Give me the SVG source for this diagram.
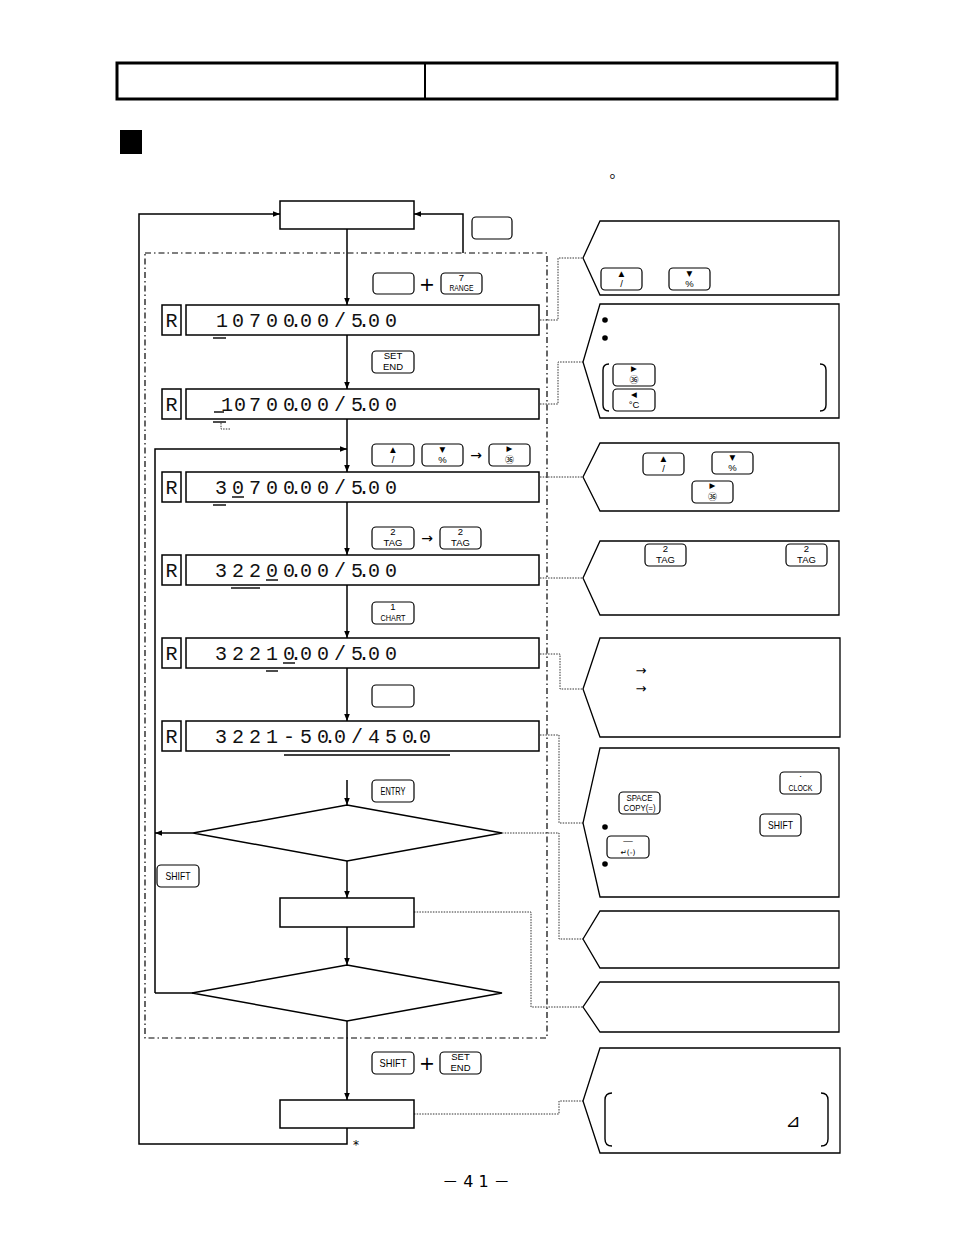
<svg xmlns="http://www.w3.org/2000/svg" width="954" height="1235" viewBox="0 0 954 1235">
<defs>
<marker id="ah" viewBox="0 0 8 8" refX="8" refY="4" markerWidth="7" markerHeight="7" markerUnits="userSpaceOnUse" orient="auto"><path d="M0,0.8 L8,4 L0,7.2 z" fill="#000"/></marker>
<style>
.bx{fill:#fff;stroke:#000;stroke-width:1.5}
.cl{fill:#fff;stroke:#000;stroke-width:1.3}
.k{fill:#fff;stroke:#000;stroke-width:1.2}
.kt{font-family:"Liberation Sans","Noto Sans CJK JP",sans-serif;font-size:9.5px;text-anchor:middle;fill:#000}
.k1{font-family:"Liberation Sans",sans-serif;font-size:11px;text-anchor:middle;fill:#000}
.ks{font-family:"DejaVu Sans","Noto Sans CJK JP",sans-serif;font-size:7.5px;text-anchor:middle;fill:#000}
.kc{font-family:"Noto Sans CJK JP",sans-serif;font-size:9px;text-anchor:middle;fill:#000}
.seg{font-family:"Liberation Mono","DejaVu Sans Mono",monospace;font-size:20px;text-anchor:middle;fill:#111}
.ln{fill:none;stroke:#000;stroke-width:1.5}
.ul{fill:none;stroke:#000;stroke-width:1.4}
.dt{fill:none;stroke:#333;stroke-width:1;stroke-dasharray:1.5 1.2}
.dd{fill:none;stroke:#000;stroke-width:1.2;stroke-dasharray:6 3 1.5 3}
.sym{font-family:"DejaVu Sans","Noto Sans CJK JP",sans-serif;fill:#000;text-anchor:middle}
</style>
</defs>

<!-- header -->
<g id="header">
<rect x="117" y="63" width="720" height="36" fill="none" stroke="#000" stroke-width="3"/>
<line x1="425" y1="63" x2="425" y2="99" stroke="#000" stroke-width="2"/>
<rect x="120" y="130" width="22" height="24" fill="#000"/>
<text x="617" y="177" class="sym" font-size="15" font-family="Noto Sans CJK JP, sans-serif">。</text>
</g>

<!-- dash-dot region -->
<rect id="region" x="145" y="253" width="402" height="785" class="dd"/>

<!-- connectors -->
<g id="connectors">
<line x1="347" y1="229" x2="347" y2="305" class="ln" marker-end="url(#ah)"/>
<line x1="347" y1="335" x2="347" y2="389" class="ln" marker-end="url(#ah)"/>
<line x1="347" y1="419" x2="347" y2="472" class="ln" marker-end="url(#ah)"/>
<line x1="347" y1="502" x2="347" y2="555" class="ln" marker-end="url(#ah)"/>
<line x1="347" y1="585" x2="347" y2="638" class="ln" marker-end="url(#ah)"/>
<line x1="347" y1="668" x2="347" y2="721" class="ln" marker-end="url(#ah)"/>
<line x1="347" y1="780" x2="347" y2="805" class="ln" marker-end="url(#ah)"/>
<line x1="347" y1="861" x2="347" y2="898" class="ln" marker-end="url(#ah)"/>
<line x1="347" y1="927" x2="347" y2="965" class="ln" marker-end="url(#ah)"/>
<line x1="347" y1="1021" x2="347" y2="1100" class="ln" marker-end="url(#ah)"/>
<polyline points="347,1128 347,1144 139,1144 139,214 280,214" class="ln" marker-end="url(#ah)"/>
<polyline points="463,253 463,214 414,214" class="ln" marker-end="url(#ah)"/>
<polyline points="155,993 155,449 347,449" class="ln" marker-end="url(#ah)"/>
<line x1="193" y1="993" x2="155" y2="993" class="ln"/>
<line x1="193" y1="833" x2="155" y2="833" class="ln" marker-end="url(#ah)"/>
<!-- dotted leaders -->
<polyline points="540,320 558,320 558,258 583,258" class="dt"/>
<polyline points="540,404 558,404 558,362 583,362" class="dt"/>
<polyline points="540,477 583,477" class="dt"/>
<polyline points="540,578 583,578" class="dt"/>
<polyline points="540,654 560,654 560,689 583,689" class="dt"/>
<polyline points="540,735 559,735 559,823 583,823" class="dt"/>
<polyline points="502,833 559,833 559,939 583,939" class="dt"/>
<polyline points="414,912 531,912 531,1007 583,1007" class="dt"/>
<polyline points="414,1114 559,1114 559,1101 583,1101" class="dt"/>
<polyline points="221,423 221,429 231,429" class="dt"/>
<text x="356" y="1149" class="sym" font-size="12" font-family="Liberation Serif, serif">*</text>
</g>

<!-- flow boxes -->
<g id="box-start"><rect x="280" y="201" width="134" height="28" class="bx"/></g>
<g id="decision-1"><polygon points="347,805 502,833 347,861 193,833" class="bx"/></g>
<g id="box-process"><rect x="280" y="898" width="134" height="29" class="bx"/></g>
<g id="decision-2"><polygon points="347,965 502,993 347,1021 192,993" class="bx"/></g>
<g id="box-end"><rect x="280" y="1100" width="134" height="28" class="bx"/></g>

<!-- displays -->
<g id="display-1">
<rect x="162" y="305" width="19" height="30" class="bx" stroke-width="1.2"/>
<text x="171.5" y="327" class="seg">R</text>
<rect x="186" y="305" width="353" height="30" class="bx" stroke-width="1.2"/>
<text class="seg" y="327" x="222 238 255 272 289 296 306 323 340 357 364 374 391">10700.00/5.00</text>
<line x1="213" y1="338" x2="226" y2="338" class="ul"/>
</g>
<g id="display-2">
<rect x="162" y="389" width="19" height="30" class="bx" stroke-width="1.2"/>
<text x="171.5" y="411" class="seg">R</text>
<rect x="186" y="389" width="353" height="30" class="bx" stroke-width="1.2"/>
<text class="seg" y="411" x="227 240 255 272 289 296 306 323 340 357 364 374 391">10700.00/5.00</text>
<line x1="214" y1="412" x2="224" y2="412" class="ul"/>
<line x1="213" y1="422" x2="226" y2="422" class="ul"/>
</g>
<g id="display-3">
<rect x="162" y="472" width="19" height="30" class="bx" stroke-width="1.2"/>
<text x="171.5" y="494" class="seg">R</text>
<rect x="186" y="472" width="353" height="30" class="bx" stroke-width="1.2"/>
<text class="seg" y="494" x="221 238 255 272 289 296 306 323 340 357 364 374 391">30700.00/5.00</text>
<line x1="232" y1="497" x2="244" y2="497" class="ul"/>
<line x1="213" y1="505" x2="226" y2="505" class="ul"/>
</g>
<g id="display-4">
<rect x="162" y="555" width="19" height="30" class="bx" stroke-width="1.2"/>
<text x="171.5" y="577" class="seg">R</text>
<rect x="186" y="555" width="353" height="30" class="bx" stroke-width="1.2"/>
<text class="seg" y="577" x="221 238 255 272 289 296 306 323 340 357 364 374 391">32200.00/5.00</text>
<line x1="266" y1="580" x2="278" y2="580" class="ul"/>
<line x1="231" y1="588" x2="260" y2="588" class="ul"/>
</g>
<g id="display-5">
<rect x="162" y="638" width="19" height="30" class="bx" stroke-width="1.2"/>
<text x="171.5" y="660" class="seg">R</text>
<rect x="186" y="638" width="353" height="30" class="bx" stroke-width="1.2"/>
<text class="seg" y="660" x="221 238 255 272 289 296 306 323 340 357 364 374 391">32210.00/5.00</text>
<line x1="283" y1="663" x2="295" y2="663" class="ul"/>
<line x1="266" y1="671" x2="278" y2="671" class="ul"/>
</g>
<g id="display-6">
<rect x="162" y="721" width="19" height="30" class="bx" stroke-width="1.2"/>
<text x="171.5" y="743" class="seg">R</text>
<rect x="186" y="721" width="353" height="30" class="bx" stroke-width="1.2"/>
<text class="seg" y="743" x="221 238 255 272 289 306 323 330 340 357 374 391 408 415 425">3221-50.0/450.0</text>
<line x1="284" y1="755" x2="450" y2="755" class="ul"/>
</g>

<!-- keys in flow -->
<g id="keys-flow">
<g id="key-a"><rect x="472" y="217" width="40" height="22" rx="4" class="k"/></g>
<g id="key-b"><rect x="373" y="273" width="41" height="21" rx="4" class="k"/></g>
<text x="427" y="291" class="sym" font-size="19">+</text>
<g id="key-range"><rect x="441" y="273" width="41" height="21" rx="4" class="k"/><text x="461.5" y="281" class="kt">7</text><text x="461.5" y="291" class="kt" textLength="24" lengthAdjust="spacingAndGlyphs">RANGE</text></g>
<g id="key-set1"><rect x="372" y="351" width="42" height="22" rx="4" class="k"/><text x="393" y="359" class="kt">SET</text><text x="393" y="370" class="kt">END</text></g>
<g id="key-up1"><rect x="372" y="444" width="42" height="22" rx="4" class="k"/><text x="393" y="452" class="ks">▲</text><text x="393" y="463" class="kt">/</text></g>
<g id="key-dn1"><rect x="422" y="444" width="41" height="22" rx="4" class="k"/><text x="442.5" y="452" class="ks">▼</text><text x="442.5" y="463" class="kt">%</text></g>
<text x="476" y="460" class="sym" font-size="14">→</text>
<g id="key-rt1"><rect x="489" y="444" width="41" height="22" rx="4" class="k"/><text x="509.5" y="451" class="ks">▶</text><text x="509.5" y="463" class="kc">㊱</text></g>
<g id="key-tag1"><rect x="372" y="527" width="42" height="22" rx="4" class="k"/><text x="393" y="535" class="kt">2</text><text x="393" y="546" class="kt">TAG</text></g>
<text x="427" y="543" class="sym" font-size="14">→</text>
<g id="key-tag2"><rect x="440" y="527" width="41" height="22" rx="4" class="k"/><text x="460.5" y="535" class="kt">2</text><text x="460.5" y="546" class="kt">TAG</text></g>
<g id="key-chart"><rect x="372" y="602" width="42" height="22" rx="4" class="k"/><text x="393" y="610" class="kt">1</text><text x="393" y="621" class="kt" textLength="25" lengthAdjust="spacingAndGlyphs">CHART</text></g>
<g id="key-c"><rect x="372" y="685" width="42" height="22" rx="4" class="k"/></g>
<g id="key-entry"><rect x="372" y="780" width="42" height="22" rx="4" class="k"/><text x="393" y="795" class="k1" textLength="25" lengthAdjust="spacingAndGlyphs">ENTRY</text></g>
<g id="key-shift1"><rect x="157" y="865" width="42" height="22" rx="4" class="k"/><text x="178" y="880" class="k1" textLength="25" lengthAdjust="spacingAndGlyphs">SHIFT</text></g>
<g id="key-shift2"><rect x="372" y="1052" width="42" height="22" rx="4" class="k"/><text x="393" y="1067" class="k1" textLength="27" lengthAdjust="spacingAndGlyphs">SHIFT</text></g>
<text x="427" y="1070" class="sym" font-size="19">+</text>
<g id="key-set2"><rect x="440" y="1052" width="41" height="22" rx="4" class="k"/><text x="460.5" y="1060" class="kt">SET</text><text x="460.5" y="1071" class="kt">END</text></g>
</g>

<!-- callouts -->
<g id="callout-1">
<path d="M600,221 H839 V295 H600 L583,258 Z" class="cl"/>
<rect x="601" y="268" width="41" height="22" rx="4" class="k"/><text x="621.5" y="276" class="ks">▲</text><text x="621.5" y="287" class="kt">/</text>
<rect x="669" y="268" width="41" height="22" rx="4" class="k"/><text x="689.5" y="276" class="ks">▼</text><text x="689.5" y="287" class="kt">%</text>
</g>
<g id="callout-2">
<path d="M600,304 H839 V418 H600 L583,362 Z" class="cl"/>
<circle cx="605" cy="320" r="2.8"/>
<circle cx="605" cy="338" r="2.8"/>
<path d="M609,364 Q603,364 603,370 V405 Q603,411 609,411" class="ul" stroke-width="1.2"/>
<path d="M820,364 Q826,364 826,370 V405 Q826,411 820,411" class="ul" stroke-width="1.2"/>
<rect x="613" y="364" width="42" height="22" rx="4" class="k"/><text x="634" y="371" class="ks">▶</text><text x="634" y="383" class="kc">㊱</text>
<rect x="613" y="389" width="42" height="22" rx="4" class="k"/><text x="634" y="397" class="ks">◀</text><text x="634" y="408" class="kt">°C</text>
</g>
<g id="callout-3">
<path d="M600,443 H839 V511 H600 L583,477 Z" class="cl"/>
<rect x="643" y="453" width="41" height="22" rx="4" class="k"/><text x="663.5" y="461" class="ks">▲</text><text x="663.5" y="472" class="kt">/</text>
<rect x="712" y="452" width="41" height="22" rx="4" class="k"/><text x="732.5" y="460" class="ks">▼</text><text x="732.5" y="471" class="kt">%</text>
<rect x="692" y="481" width="41" height="22" rx="4" class="k"/><text x="712.5" y="488" class="ks">▶</text><text x="712.5" y="500" class="kc">㊱</text>
</g>
<g id="callout-4">
<path d="M600,541 H839 V615 H600 L583,578 Z" class="cl"/>
<rect x="645" y="544" width="41" height="22" rx="4" class="k"/><text x="665.5" y="552" class="kt">2</text><text x="665.5" y="563" class="kt">TAG</text>
<rect x="786" y="544" width="41" height="22" rx="4" class="k"/><text x="806.5" y="552" class="kt">2</text><text x="806.5" y="563" class="kt">TAG</text>
</g>
<g id="callout-5">
<path d="M600,638 H840 V737 H600 L583,689 Z" class="cl"/>
<text x="641" y="675" class="sym" font-size="13">→</text>
<text x="641" y="693" class="sym" font-size="13">→</text>
</g>
<g id="callout-6">
<path d="M600,748 H839 V897 H600 L583,823 Z" class="cl"/>
<rect x="780" y="772" width="41" height="22" rx="4" class="k"/><text x="800.5" y="779" class="kt">·</text><text x="800.5" y="791" class="kt" textLength="24" lengthAdjust="spacingAndGlyphs">CLOCK</text>
<rect x="619" y="792" width="41" height="22" rx="4" class="k"/><text x="639.5" y="801" class="kt" textLength="26" lengthAdjust="spacingAndGlyphs">SPACE</text><text x="639.5" y="811" class="kt" textLength="32" lengthAdjust="spacingAndGlyphs">COPY(=)</text>
<rect x="760" y="814" width="41" height="22" rx="4" class="k"/><text x="780.5" y="829" class="k1" textLength="25" lengthAdjust="spacingAndGlyphs">SHIFT</text>
<circle cx="605" cy="827" r="2.8"/>
<rect x="607" y="836" width="42" height="22" rx="4" class="k"/><text x="628" y="844" class="kt">—</text><text x="628" y="855" class="ks" font-size="9">↵(-)</text>
<circle cx="605" cy="864" r="2.8"/>
</g>
<g id="callout-7"><path d="M600,911 H839 V968 H600 L583,939 Z" class="cl"/></g>
<g id="callout-8"><path d="M600,982 H839 V1032 H600 L583,1007 Z" class="cl"/></g>
<g id="callout-9">
<path d="M600,1048 H840 V1153 H600 L583,1101 Z" class="cl"/>
<path d="M612,1093 Q605,1093 605,1100 V1139 Q605,1146 612,1146" class="ul" stroke-width="1.2"/>
<path d="M821,1093 Q828,1093 828,1100 V1139 Q828,1146 821,1146" class="ul" stroke-width="1.2"/>
<text x="793" y="1127" class="sym" font-size="18">⊿</text>
</g>

<text id="page" x="476" y="1187" class="sym" font-size="16" font-family="Liberation Serif, Noto Sans CJK JP, serif" fill="#333">－ 4 1 －</text>
</svg>
